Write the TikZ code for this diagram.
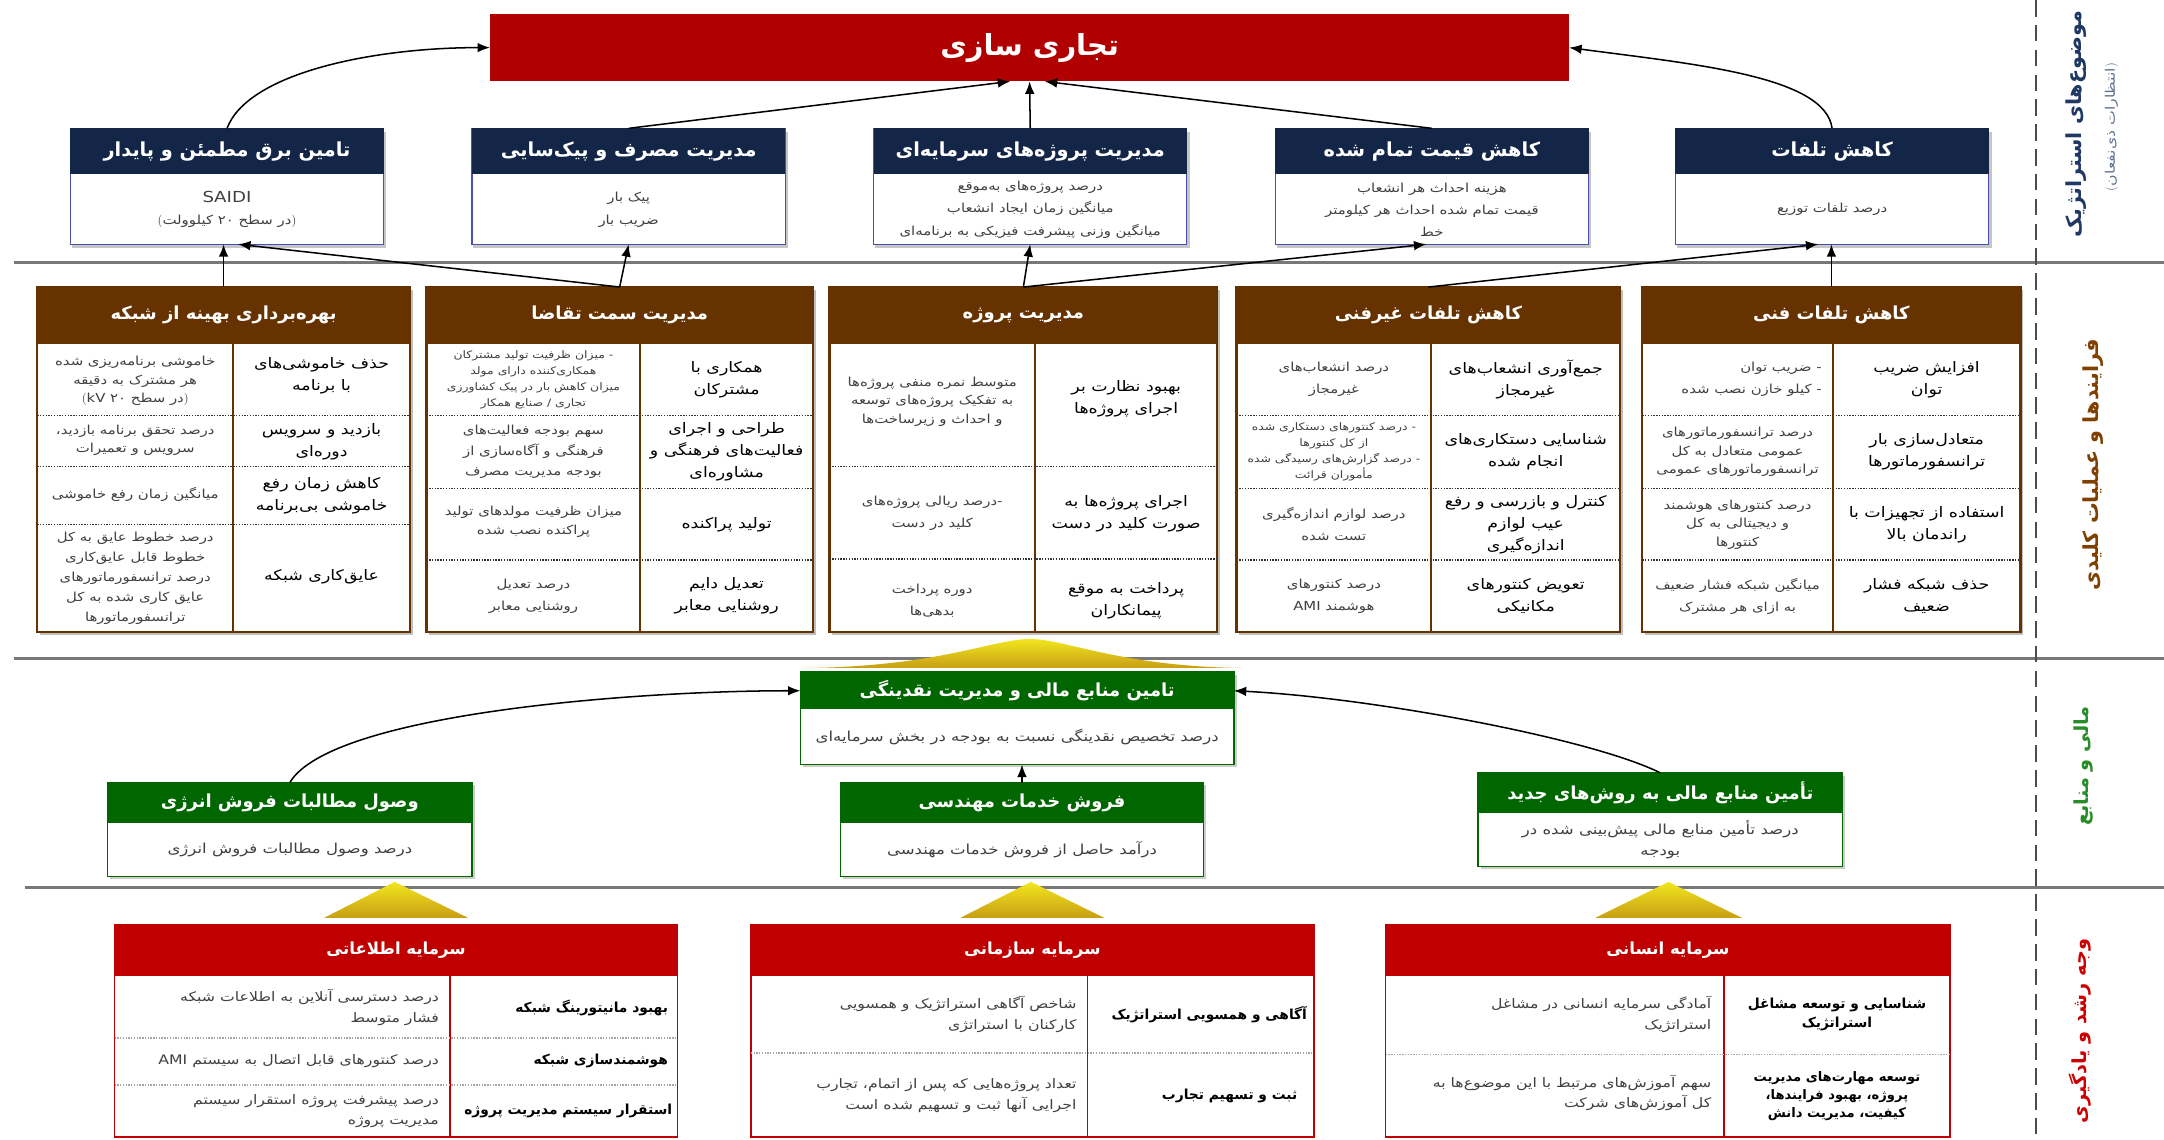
\documentclass[tikz,border=0pt]{standalone}
\usepackage{fontspec}
\setmainfont[Script=Arabic]{DejaVu Sans}
\newfontfamily\bodyfont[Script=Arabic,FakeStretch=1.2]{DejaVu Sans}
\usetikzlibrary{arrows.meta,calc}
\TeXXeTstate=1
\newcommand{\rl}[1]{\beginR #1\endR}
\newcommand{\lr}[1]{\beginL #1\endL}
\font\parenfont=cmr10 at 9pt
\newcommand{\fop}{\hbox{\parenfont)}}
\newcommand{\fcl}{\hbox{\parenfont(}}
\newcommand{\fcomma}{\hbox{،}}
\newcommand{\fsz}[2]{\fontsize{#1}{#2}\selectfont}
\definecolor{bannerred}{RGB}{176,0,0}
\definecolor{navy}{RGB}{20,38,72}
\definecolor{pbrown}{RGB}{102,51,0}
\definecolor{fgreen}{RGB}{0,102,0}
\definecolor{lred}{RGB}{192,0,0}
\definecolor{gold1}{RGB}{242,230,30}
\definecolor{gold2}{RGB}{200,158,20}
\definecolor{sepgray}{RGB}{120,120,120}
\definecolor{lblnavy}{RGB}{31,56,100}
\definecolor{lblbrown}{RGB}{128,64,0}
\definecolor{lblgreen}{RGB}{40,140,40}
\definecolor{lblred}{RGB}{204,0,0}
\tikzset{
  every node/.style={inner sep=0pt, outer sep=0pt},
  arr/.style={-{Latex[length=9pt,width=7pt]}, line width=1.1pt, black},
  sepline/.style={line width=2.2pt, sepgray},
  vdash/.style={line width=1.3pt, black!70, dash pattern=on 12pt off 6pt},
  banner/.style={fill=bannerred, text=white, font=\fsz{21}{25}\bfseries},
  objframe/.style={draw=gray!60!blue, line width=0.8pt, fill=white},
  objhead/.style={fill=navy, text=white, font=\fsz{14}{17}\bfseries},
  objtxt/.style={align=center, font=\bodyfont\fsz{9}{16}, text=black!75},
  pframe/.style={draw=pbrown, line width=1.6pt, fill=white},
  phead/.style={fill=pbrown, text=white, font=\fsz{13}{16}\bfseries},
  pobj/.style={align=center, font=\bodyfont\fsz{10.5}{16}, text=black},
  pmeas/.style={align=center, font=\bodyfont\fsz{9}{13.5}, text=black!75},
  psmall/.style={align=center, font=\bodyfont\fsz{7.5}{11.5}, text=black!75},
  pdiv/.style={draw=pbrown, line width=1.4pt},
  pdot/.style={line width=1.3pt, black!80, dash pattern=on 1pt off 1pt},
  fframe/.style={draw=fgreen, line width=1pt, fill=white},
  fhead/.style={fill=fgreen, text=white, font=\fsz{13}{16}\bfseries},
  ftxt/.style={align=center, font=\bodyfont\fsz{10}{15}, text=black!75},
  lframe/.style={draw=lred, line width=1.2pt, fill=white},
  lhead/.style={fill=lred, text=white, font=\fsz{12}{15}\bfseries},
  ldiv/.style={draw=lred, line width=1.2pt},
  ldot/.style={line width=1.2pt, gray!70, dash pattern=on 1pt off 1pt},
  lobj/.style={align=right, font=\fsz{10}{14}\bfseries, text=black},
  lmeas/.style={align=right, font=\bodyfont\fsz{9.5}{15}, text=black!75},
  lbl/.style={rotate=90},
  goldshape/.style={top color=gold1, bottom color=gold2}
}
\newcommand{\objbox}[4]{%
  \fill[gray!45] ({#2+1},96) rectangle ({#2+229},180);
  \node[objframe, anchor=north west, minimum width=227pt, minimum height=84pt] (#1) at (#2,93) {};
  \node[objhead, anchor=north west, minimum width=227pt, minimum height=33pt] (#1h) at (#2,93) {#3};
  \node[objtxt] (#1t) at ({#2+113.5},152) {#4};
}
\newcommand{\procbox}[5]{%
  \fill[black!25] ({#2+2},210) rectangle ({#3+2},460);
  \node[pframe, anchor=north west, minimum width={(#3-#2)*1pt}, minimum height=250pt] (#1) at (#2,208) {};
  \node[phead, anchor=north west, minimum width={(#3-#2)*1pt}, minimum height=41pt] (#1h) at (#2,208) {#5};
  \draw[pdiv] (#4,249) -- (#4,458);
}
\newcommand{\hdot}[3]{\draw[pdot] (#1,#3) -- (#2,#3);}
\newcommand{\finbox}[8]{%
  \fill[gray!40] ({#2+2},{#3+2}) rectangle ({#2+#4+2},{#3+#5+2});
  \node[fframe, anchor=north west, minimum width=#4pt, minimum height=#5pt] (#1) at (#2,#3) {};
  \node[fhead, anchor=north west, minimum width=#4pt, minimum height=#6pt] (#1h) at (#2,#3) {#7};
  \node[ftxt] (#1t) at ({#2+#4/2},{#3+#6/2+#5/2}) {#8};
}
\newcommand{\learnbox}[5]{%
  \node[lframe, anchor=north west, minimum width={(#3-#2)*1pt}, minimum height=154pt] (#1) at (#2,670) {};
  \node[lhead, anchor=north west, minimum width={(#3-#2)*1pt}, minimum height=37pt] (#1h) at (#2,670) {#5};
  \draw[ldiv] (#4,707) -- (#4,824);
}
\begin{document}
\begin{tikzpicture}[x=1pt,y=-1pt]
\useasboundingbox (0,0) rectangle (1568,826);
\fill[white] (0,0) rectangle (1568,826);

% separators
\draw[sepline] (10,190) -- (1568,190);
\draw[sepline] (10,477) -- (1568,477);
\draw[sepline] (18,643) -- (1568,643);
\draw[vdash] (1475,0) -- (1475,826);

% side labels
\node[lbl, text=lblnavy, font=\fsz{15}{18}\bfseries] (lab1) at (1504,90) {\rl{موضوع‌های استراتژیک}};
\node[lbl, text=lblnavy!70, font=\bodyfont\fsz{9.5}{12}] (lab1b) at (1530,92) {\rl{\fop انتظارات ذی‌نفعان\fcl}};
\node[lbl, text=lblbrown, font=\fsz{15}{18}\bfseries] (lab2) at (1517,337) {\rl{فرایندها و عملیات کلیدی}};
\node[lbl, text=lblgreen, font=\fsz{14}{17}\bfseries] (lab3) at (1510,555) {\rl{مالی و منابع}};
\node[lbl, text=lblred, font=\fsz{14}{17}\bfseries] (lab4) at (1507,747) {\rl{وجه رشد و یادگیری}};

% banner
\node[banner, anchor=north west, minimum width=782pt, minimum height=49pt] (banner) at (355,10) {\rl{تجاری سازی}};

% objectives
\objbox{o1}{51}{\rl{تامین برق مطمئن و پایدار}}{{\fsz{11}{17}SAIDI}\\\rl{\fop در سطح ۲۰ کیلوولت\fcl}}
\objbox{o2}{342}{\rl{مدیریت مصرف و پیک‌سایی}}{\rl{پیک بار}\\\rl{ضریب بار}}
\objbox{o3}{633}{\rl{مدیریت پروژه‌های سرمایه‌ای}}{\rl{درصد پروژه‌های به‌موقع}\\\rl{میانگین زمان ایجاد انشعاب}\\\rl{میانگین وزنی پیشرفت فیزیکی به برنامه‌ای}}
\objbox{o4}{924}{\rl{کاهش قیمت تمام شده}}{\rl{هزینه احداث هر انشعاب}\\\rl{قیمت تمام شده احداث هر کیلومتر}\\\rl{خط}}
\objbox{o5}{1214}{\rl{کاهش تلفات}}{\rl{درصد تلفات توزیع}}

% objective -> banner
\draw[arr] (o1.north) .. controls ($(o1.north)+(15,-40)$) and ($(banner.west)+(-85,0)$) .. (banner.west);
\draw[arr] (o2.north) -- ($(banner.south)+(-14,0)$);
\draw[arr] (o3.north) -- (banner.south);
\draw[arr] (o4.north) -- ($(banner.south)+(11,0)$);
\draw[arr] (o5.north) .. controls ($(o5.north)+(-5,-38)$) and ($(banner.east)+(90,12)$) .. (banner.east);

% process boxes
\procbox{p1}{27}{297}{169}{\rl{بهره‌برداری بهینه از شبکه}}
\hdot{27}{297}{301}\hdot{27}{297}{338}\hdot{27}{297}{380}
\node[pobj] at (233,272) {\rl{حذف خاموشی‌های}\\\rl{با برنامه}};
\node[pmeas] at (98,276) {\rl{خاموشی برنامه‌ریزی شده}\\\rl{هر مشترک به دقیقه}\\\rl{\fop در سطح ۲۰ \lr{kV}\fcl}};
\node[pobj] at (233,320) {\rl{بازدید و سرویس}\\\rl{دوره‌ای}};
\node[pmeas] at (98,319) {\rl{درصد تحقق برنامه بازدید\fcomma}\\\rl{سرویس و تعمیرات}};
\node[pobj] at (233,359) {\rl{کاهش زمان رفع}\\\rl{خاموشی بی‌برنامه}};
\node[pmeas] at (98,358) {\rl{میانگین زمان رفع خاموشی}};
\node[pobj] at (233,418) {\rl{عایق‌کاری شبکه}};
\node[pmeas, font=\bodyfont\fsz{9}{14.5}] at (98,419) {\rl{درصد خطوط عایق به کل}\\\rl{خطوط قابل عایق‌کاری}\\\rl{درصد ترانسفورماتورهای}\\\rl{عایق کاری شده به کل}\\\rl{ترانسفورماتورها}};

\procbox{p2}{309}{589}{464}{\rl{مدیریت سمت تقاضا}}
\hdot{309}{589}{301}\hdot{309}{589}{354}\hdot{309}{589}{406}
\node[pobj] at (526.5,275) {\rl{همکاری با}\\\rl{مشترکان}};
\node[psmall] at (386.5,275) {\rl{- میزان ظرفیت تولید مشترکان}\\\rl{همکاری‌کننده دارای مولد}\\\rl{میزان کاهش بار در پیک کشاورزی}\\\rl{تجاری / صنایع همکار}};
\node[pobj] at (526.5,327.5) {\rl{طراحی و اجرای}\\\rl{فعالیت‌های فرهنگی و}\\\rl{مشاوره‌ای}};
\node[pmeas, font=\bodyfont\fsz{9}{15}] at (386.5,327.5) {\rl{سهم بودجه فعالیت‌های}\\\rl{فرهنگی و آگاه‌سازی از}\\\rl{بودجه مدیریت مصرف}};
\node[pobj] at (526.5,380) {\rl{تولید پراکنده}};
\node[pmeas] at (386.5,378) {\rl{میزان ظرفیت مولدهای تولید}\\\rl{پراکنده نصب شده}};
\node[pobj] at (526.5,432) {\rl{تعدیل دایم}\\\rl{روشنایی معابر}};
\node[pmeas, font=\bodyfont\fsz{9}{16}] at (386.5,432) {\rl{درصد تعدیل}\\\rl{روشنایی معابر}};

\procbox{p3}{601}{882}{750}{\rl{مدیریت پروژه}}
\hdot{601}{882}{338}\hdot{601}{882}{405}
\node[pobj] at (816,289) {\rl{بهبود نظارت بر}\\\rl{اجرای پروژه‌ها}};
\node[pmeas] at (675.5,291) {\rl{متوسط نمره منفی پروژه‌ها}\\\rl{به تفکیک پروژه‌های توسعه}\\\rl{و احداث و زیرساخت‌ها}};
\node[pobj] at (816,372) {\rl{اجرای پروژه‌ها به}\\\rl{صورت کلید در دست}};
\node[pmeas, font=\bodyfont\fsz{9}{16}] at (675.5,372) {\rl{\hbox{-}درصد ریالی پروژه‌های}\\\rl{کلید در دست}};
\node[pobj] at (816,435) {\rl{پرداخت به موقع}\\\rl{پیمانکاران}};
\node[pmeas, font=\bodyfont\fsz{9}{16}] at (675.5,435) {\rl{دوره پرداخت}\\\rl{بدهی‌ها}};

\procbox{p4}{896}{1174}{1037}{\rl{کاهش تلفات غیرفنی}}
\hdot{896}{1174}{301}\hdot{896}{1174}{354}\hdot{896}{1174}{406}
\node[pobj] at (1105.5,275) {\rl{جمع‌آوری انشعاب‌های}\\\rl{غیرمجاز}};
\node[pmeas, font=\bodyfont\fsz{9}{16}] at (966.5,275) {\rl{درصد انشعاب‌های}\\\rl{غیرمجاز}};
\node[pobj] at (1105.5,327.5) {\rl{شناسایی دستکاری‌های}\\\rl{انجام شده}};
\node[psmall] at (966.5,327.5) {\rl{- درصد کنتورهای دستکاری شده}\\\rl{از کل کنتورها}\\\rl{- درصد گزارش‌های رسیدگی شده}\\\rl{مأموران قرائت}};
\node[pobj] at (1105.5,380) {\rl{کنترل و بازرسی و رفع}\\\rl{عیب لوازم}\\\rl{اندازه‌گیری}};
\node[pmeas, font=\bodyfont\fsz{9}{16}] at (966.5,380) {\rl{درصد لوازم اندازه‌گیری}\\\rl{تست شده}};
\node[pobj] at (1105.5,432) {\rl{تعویض کنتورهای}\\\rl{مکانیکی}};
\node[pmeas, font=\bodyfont\fsz{9}{16}] at (966.5,432) {\rl{درصد کنتورهای}\\\rl{هوشمند \lr{AMI}}};

\procbox{p5}{1190}{1464}{1328}{\rl{کاهش تلفات فنی}}
\hdot{1190}{1464}{301}\hdot{1190}{1464}{354}\hdot{1190}{1464}{406}
\node[pobj] at (1396,275) {\rl{افزایش ضریب}\\\rl{توان}};
\node[pmeas, align=right, anchor=east, font=\bodyfont\fsz{9}{16}] at (1320,275) {\rl{- ضریب توان}\\\rl{- کیلو خازن نصب شده}};
\node[pobj] at (1396,327.5) {\rl{متعادل‌سازی بار}\\\rl{ترانسفورماتورها}};
\node[pmeas] at (1259,327.5) {\rl{درصد ترانسفورماتورهای}\\\rl{عمومی متعادل به کل}\\\rl{ترانسفورماتورهای عمومی}};
\node[pobj] at (1396,380) {\rl{استفاده از تجهیزات با}\\\rl{راندمان بالا}};
\node[pmeas] at (1259,380) {\rl{درصد کنتورهای هوشمند}\\\rl{و دیجیتالی به کل}\\\rl{کنتورها}};
\node[pobj] at (1396,432) {\rl{حذف شبکه فشار}\\\rl{ضعیف}};
\node[pmeas, font=\bodyfont\fsz{9}{16}] at (1259,432) {\rl{میانگین شبکه فشار ضعیف}\\\rl{به ازای هر مشترک}};

% process -> objective
\draw[arr] (p1.north) -- (p1.north |- o1.south);
\draw[arr] (p2.north) -- ($(o1.south)+(8,0)$);
\draw[arr] (p2.north) -- (o2.south);
\draw[arr] (p3.north) -- (o3.south);
\draw[arr] (p3.north) -- ($(o4.south)+(-4,0)$);
\draw[arr] (p4.north) -- ($(o5.south)+(-10,0)$);
\draw[arr] (p5.north) -- (p5.north |- o5.south);

% finance
\finbox{f0}{580}{487}{314}{67}{27}{\rl{تامین منابع مالی و مدیریت نقدینگی}}{\rl{درصد تخصیص نقدینگی نسبت به بودجه در بخش سرمایه‌ای}}
\shade[goldshape] (584,484) .. controls (680,483) and (720,463) .. (746,463) .. controls (772,463) and (812,483) .. (900,484) -- cycle;
\finbox{f1}{78}{567}{264}{68}{29}{\rl{وصول مطالبات فروش انرژی}}{\rl{درصد وصول مطالبات فروش انرژی}}
\finbox{f2}{609}{567}{263}{68}{29}{\rl{فروش خدمات مهندسی}}{\rl{درآمد حاصل از فروش خدمات مهندسی}}
\finbox{f3}{1071}{560}{264}{68}{29}{\rl{تأمین منابع مالی به روش‌های جدید}}{\rl{درصد تأمین منابع مالی پیش‌بینی شده در}\\\rl{بودجه}}

\draw[arr] (f1.north) .. controls ($(f1.north)+(30,-50)$) and ($(f0h.west)+(-120,0)$) .. (f0h.west);
\draw[arr] (f2.north) -- (f2.north |- f0.south);
\draw[arr] (f3.north) .. controls ($(f3.north)+(-50,-25)$) and ($(f0h.east)+(100,5)$) .. (f0h.east);

% learning
\shade[goldshape] (235,665) -- (286,639) -- (339,665) -- cycle;
\shade[goldshape] (696,665) -- (747,639) -- (800,665) -- cycle;
\shade[goldshape] (1156,665) -- (1209,639) -- (1262,665) -- cycle;

\learnbox{l1}{83}{491}{326}{\rl{سرمایه اطلاعاتی}}
\draw[ldot] (83,752) -- (491,752);
\draw[ldot] (83,786) -- (491,786);
\node[lobj, anchor=east] at (484,730) {\rl{بهبود مانیتورینگ شبکه}};
\node[lmeas, anchor=east] at (318,730) {\rl{درصد دسترسی آنلاین به اطلاعات شبکه}\\\rl{فشار متوسط}};
\node[lobj, anchor=east] at (484,769) {\rl{هوشمندسازی شبکه}};
\node[lmeas, anchor=east] at (318,769) {\rl{درصد کنتورهای قابل اتصال به سیستم \lr{AMI}}};
\node[lobj, anchor=east] at (487,805) {\rl{استقرار سیستم مدیریت پروژه}};
\node[lmeas, anchor=east] at (318,805) {\rl{درصد پیشرفت پروژه استقرار سیستم}\\\rl{مدیریت پروژه}};

\learnbox{l2}{544}{952}{788}{\rl{سرمایه سازمانی}}
\draw[ldot] (544,763) -- (952,763);
\node[lobj, anchor=east] at (947,735) {\rl{آگاهی و همسویی استراتژیک}};
\node[lmeas, anchor=east] at (780,735) {\rl{شاخص آگاهی استراتژیک و همسویی}\\\rl{کارکنان با استراتژی}};
\node[lobj, anchor=east] at (940,794) {\rl{ثبت و تسهیم تجارب}};
\node[lmeas, anchor=east] at (780,794) {\rl{تعداد پروژه‌هایی که پس از اتمام\fcomma{} تجارب}\\\rl{اجرایی آنها ثبت و تسهیم شده است}};

\learnbox{l3}{1004}{1413}{1249}{\rl{سرمایه انسانی}}
\draw[ldot] (1004,764) -- (1413,764);
\node[lobj, align=center] at (1331,735) {\rl{شناسایی و توسعه مشاغل}\\\rl{استراتژیک}};
\node[lmeas, anchor=east] at (1240,735) {\rl{آمادگی سرمایه انسانی در مشاغل}\\\rl{استراتژیک}};
\node[lobj, align=center, font=\fsz{9.5}{13}\bfseries] at (1331,794) {\rl{توسعه مهارت‌های مدیریت}\\\rl{پروژه\fcomma{} بهبود فرایندها\fcomma}\\\rl{کیفیت\fcomma{} مدیریت دانش}};
\node[lmeas, anchor=east] at (1240,792) {\rl{سهم آموزش‌های مرتبط با این موضوع‌ها به}\\\rl{کل آموزش‌های شرکت}};
\end{tikzpicture}
\end{document}
